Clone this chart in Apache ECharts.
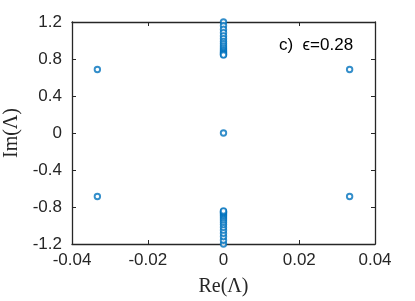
<!DOCTYPE html>
<html>
<head>
<meta charset="utf-8">
<script src="https://cdn.jsdelivr.net/npm/echarts@6/dist/echarts.min.js"></script>
<style>html,body{margin:0;padding:0;background:#fff}#c{width:415px;height:301px}</style>
</head>
<body>
<div id="c"></div>
<script>
// Data
const xTicks = [-0.04, -0.02, 0, 0.02, 0.04];
const yTicks = [-1.2, -0.8, -0.4, 0, 0.4, 0.8, 1.2];
const upperColumnIm = [1.2, 1.16, 1.12, 1.085, 1.05, 1.02, 0.99, 0.965, 0.94, 0.92, 0.9, 0.885, 0.87, 0.86, 0.85, 0.842];
const lowerColumnIm = [-1.2, -1.16, -1.12, -1.085, -1.05, -1.02, -0.99, -0.965, -0.94, -0.92, -0.9, -0.885, -0.87, -0.86, -0.85, -0.842];
const isolatedRe = [-0.0333, 0.0333, -0.0333, 0.0333, 0];
const isolatedIm = [0.687, 0.687, -0.687, -0.687, 0];
const annotation = "c)  \u03f5=0.28";

const pts = [];
upperColumnIm.forEach(v => pts.push([0, v]));
lowerColumnIm.forEach(v => pts.push([0, v]));
isolatedRe.forEach((r, i) => pts.push([r, isolatedIm[i]]));

const axCol = '#262626';
const chart = echarts.init(document.getElementById('c'), null, {renderer: 'canvas'});
const baseX = {
  type: 'value', min: xTicks[0], max: xTicks[xTicks.length - 1], interval: 0.02,
  axisLine: {show: true, onZero: false, lineStyle: {color: axCol, width: 1.3}},
  axisTick: {show: true, inside: true, length: 4, lineStyle: {color: axCol, width: 1}},
  splitLine: {show: false}
};
const baseY = {
  type: 'value', min: yTicks[0], max: yTicks[yTicks.length - 1], interval: 0.4,
  axisLine: {show: true, onZero: false, lineStyle: {color: axCol, width: 1.3}},
  axisTick: {show: true, inside: true, length: 4, lineStyle: {color: axCol, width: 1}},
  splitLine: {show: false}
};
chart.setOption({
  animation: false,
  backgroundColor: '#fff',
  grid: {left: 72, right: 40, top: 22, bottom: 57, containLabel: false, outerBoundsMode: 'none'},
  title: {
    text: annotation, left: 274, top: 32,
    textStyle: {fontFamily: 'Liberation Sans', fontSize: 17, fontWeight: 'normal', color: '#000'}
  },
  xAxis: [
    Object.assign({}, baseX, {
      position: 'bottom',
      name: 'Re(\u039b)', nameLocation: 'middle', nameGap: 33,
      nameTextStyle: {fontFamily: 'Liberation Serif', fontSize: 20, color: axCol},
      axisLabel: {margin: 8, fontFamily: 'Liberation Sans', fontSize: 17, color: axCol,
        formatter: v => (Math.abs(v) < 1e-12 ? '0' : String(+v.toFixed(2)))}
    }),
    Object.assign({}, baseX, {position: 'top', axisLabel: {show: false}})
  ],
  yAxis: [
    Object.assign({}, baseY, {
      position: 'left',
      name: 'Im(\u039b)', nameLocation: 'middle', nameGap: 50,
      nameTextStyle: {fontFamily: 'Liberation Serif', fontSize: 20, color: axCol},
      axisLabel: {margin: 10, fontFamily: 'Liberation Sans', fontSize: 17, color: axCol,
        formatter: v => (Math.abs(v) < 1e-12 ? '0' : String(+v.toFixed(1)))}
    }),
    Object.assign({}, baseY, {position: 'right', axisLabel: {show: false}})
  ],
  series: [{
    type: 'scatter',
    data: pts,
    symbol: 'circle',
    symbolSize: 5.5,
    itemStyle: {color: '#fff', borderColor: '#0072BD', borderWidth: 1.9},
    clip: false
  }]
});
</script>
</body>
</html>
